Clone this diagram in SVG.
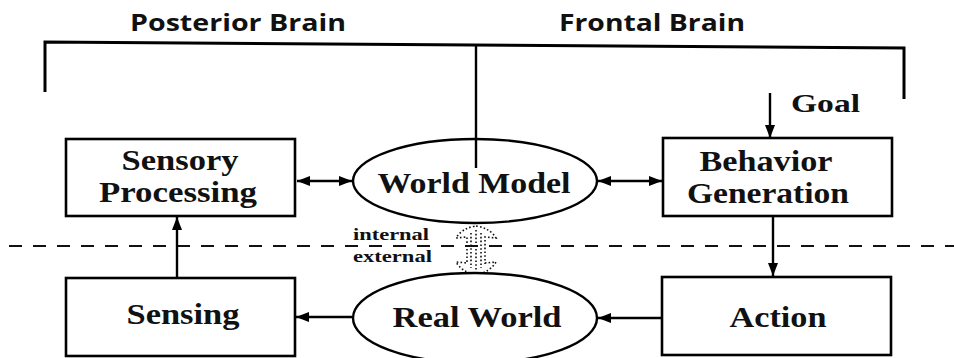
<svg xmlns="http://www.w3.org/2000/svg" width="954" height="358" viewBox="0 0 954 358">
  <defs>
    <marker id="head" viewBox="0 0 13 10" refX="13" refY="5" markerWidth="13" markerHeight="10" markerUnits="userSpaceOnUse" orient="auto-start-reverse">
      <path d="M0,0 L13,5 L0,10 Z" fill="#000"/>
    </marker>
  </defs>
  <style>
    .box { fill: #fff; stroke: #000; stroke-width: 2.6; }
    .oval { fill: #fff; stroke: #000; stroke-width: 2.4; }
    .lbl { font-family: "Liberation Serif", "Times New Roman", serif; font-weight: bold; font-size: 29px; fill: #111; }
    .small { font-family: "Liberation Serif", "Times New Roman", serif; font-weight: bold; font-size: 17px; fill: #111; }
    .head { font-family: "Open Sans", "Liberation Sans", Arial, sans-serif; font-weight: bold; font-size: 24px; fill: #111; }
    .wire { fill: none; stroke: #000; stroke-width: 2.4; }
    .brk { fill: none; stroke: #000; stroke-width: 3; stroke-linejoin: miter; }
    .dash { fill: none; stroke: #111; stroke-width: 2; stroke-dasharray: 13 11; }
    .dot { fill: none; stroke: #111; stroke-width: 1.6; stroke-dasharray: 1.6 2.2; }
  </style>
  <rect width="954" height="358" fill="#fff"/>

  <!-- brain region headings and bracket -->
  <g id="regions">
    <text class="head" x="130" y="31" textLength="216" lengthAdjust="spacingAndGlyphs">Posterior Brain</text>
    <text class="head" x="559" y="31" textLength="186" lengthAdjust="spacingAndGlyphs">Frontal Brain</text>
    <path class="brk" d="M45,92 L45,42 L904,48 L904,99"/>
  </g>

  <!-- internal / external boundary -->
  <g id="boundary">
    <line class="dash" x1="9" y1="246" x2="954" y2="246"/>
    <text class="small" x="353" y="240" textLength="76" lengthAdjust="spacingAndGlyphs">internal</text>
    <text class="small" x="353" y="262" textLength="79" lengthAdjust="spacingAndGlyphs">external</text>
  </g>

  <!-- connectors -->
  <g id="connectors">
    <line class="wire" x1="476" y1="45" x2="476" y2="191"/>
    <line class="wire" x1="770" y1="93" x2="770" y2="138" marker-end="url(#head)"/>
    <line class="wire" x1="297" y1="181" x2="352" y2="181" marker-start="url(#head)" marker-end="url(#head)"/>
    <line class="wire" x1="598" y1="181" x2="662" y2="181" marker-start="url(#head)" marker-end="url(#head)"/>
    <line class="wire" x1="773" y1="216" x2="773" y2="276" marker-end="url(#head)"/>
    <line class="wire" x1="662" y1="318" x2="598" y2="318" marker-end="url(#head)"/>
    <line class="wire" x1="352" y1="317" x2="296" y2="317" marker-end="url(#head)"/>
    <line class="wire" x1="177" y1="278" x2="177" y2="217" marker-end="url(#head)"/>
    <!-- dotted two-way block arrow between the models -->
    <path class="dot" d="M476,226 Q490,228 496,238 L485,237 L485,263 L496,262 Q490,272 476,275 Q462,272 456,262 L467,263 L467,237 L456,238 Q462,228 476,226 Z"/>
    <line class="dot" x1="471" y1="233" x2="471" y2="268"/>
    <line class="dot" x1="476" y1="230" x2="476" y2="271"/>
    <line class="dot" x1="481" y1="233" x2="481" y2="268"/>
  </g>

  <g id="sensory-processing">
    <rect class="box" x="66" y="139" width="229" height="77"/>
    <text class="lbl" x="180" y="170" text-anchor="middle" textLength="117" lengthAdjust="spacingAndGlyphs">Sensory</text>
    <text class="lbl" x="178" y="202" text-anchor="middle" textLength="158" lengthAdjust="spacingAndGlyphs">Processing</text>
  </g>

  <g id="world-model">
    <ellipse class="oval" cx="475" cy="181" rx="122" ry="42"/>
    <line class="wire" x1="476" y1="139" x2="476" y2="168"/>
    <text class="lbl" x="474" y="193" text-anchor="middle" textLength="193" lengthAdjust="spacingAndGlyphs">World Model</text>
  </g>

  <g id="behavior-generation">
    <rect class="box" x="663" y="138" width="229" height="78"/>
    <text class="lbl" x="766" y="171" text-anchor="middle" textLength="133" lengthAdjust="spacingAndGlyphs">Behavior</text>
    <text class="lbl" x="768" y="203" text-anchor="middle" textLength="162" lengthAdjust="spacingAndGlyphs">Generation</text>
  </g>

  <g id="goal">
    <text class="lbl" x="791" y="112" textLength="69" lengthAdjust="spacingAndGlyphs" style="font-size:25px">Goal</text>
  </g>

  <g id="sensing">
    <rect class="box" x="66" y="278" width="229" height="78"/>
    <text class="lbl" x="183" y="324" text-anchor="middle" textLength="113" lengthAdjust="spacingAndGlyphs">Sensing</text>
  </g>

  <g id="real-world">
    <ellipse class="oval" cx="475" cy="318" rx="122" ry="45"/>
    <text class="lbl" x="477" y="327" text-anchor="middle" textLength="169" lengthAdjust="spacingAndGlyphs">Real World</text>
  </g>

  <g id="action">
    <rect class="box" x="662" y="277" width="229" height="78"/>
    <text class="lbl" x="778" y="327" text-anchor="middle" textLength="97" lengthAdjust="spacingAndGlyphs">Action</text>
  </g>
</svg>
